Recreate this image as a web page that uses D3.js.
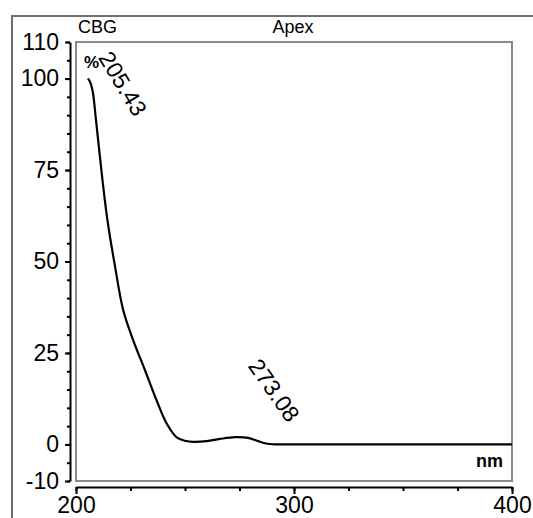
<!DOCTYPE html>
<html>
<head>
<meta charset="utf-8">
<script src="https://cdn.jsdelivr.net/npm/d3@7"></script>
<style>
  body { margin: 0; background: #fff; }
  svg { display: block; font-family: "Liberation Sans", Arial, sans-serif; }
  .axis path, .axis line { stroke: #000; stroke-width: 2; }
</style>
</head>
<body>
<svg id="chart" width="533" height="518"></svg>
<script>
// spectrum (nm, %)
var wavelengths = [205.4, 206.3, 207.6, 209.2, 212.2, 214.5, 217.8, 221.7, 226.3, 231.7, 237, 241.6, 246.2, 250, 254, 260, 266, 273, 279, 283, 286, 290, 300, 350, 400];
var absorbance  = [100, 99.3, 96.7, 88.5, 72, 61, 49, 36.6, 28.4, 20.2, 12, 5.7, 1.9, 1.0, 0.7, 0.9, 1.5, 2.0, 1.8, 1.0, 0.4, 0.05, 0, 0, 0];

// peak labels
var peakNm  = [205.43, 273.08];
var peakPct = [100, 2];
var peakText = ["205.43", "273.08"];

var yMajor = [-10, 0, 25, 50, 75, 100, 110];
var xMajor = [200, 300, 400];

var svg = d3.select("#chart");

// plot box in pixels (window.top is reserved, so prefixed names)
var boxL = 76, boxR = 512, boxT = 42, boxB = 481;

var x = d3.scaleLinear().domain([200, 400]).range([boxL, boxR]);
var y = d3.scaleLinear().domain([-10, 110]).range([boxB, boxT]);

// outer frame (top and left edges)
svg.append("path")
    .attr("d", "M12,518 V16 H533")
    .attr("fill", "none")
    .attr("stroke", "#6e6e6e")
    .attr("stroke-width", 2);

// inner plot box
svg.append("rect")
    .attr("x", boxL).attr("y", boxT)
    .attr("width", boxR - boxL).attr("height", boxB - boxT)
    .attr("fill", "none")
    .attr("stroke", "#8a8a8a")
    .attr("stroke-width", 2);

// Y axis: minor ticks every 5, major with labels
var yMinor = d3.range(-10, 111, 5);
svg.append("g")
    .attr("class", "axis")
    .attr("transform", "translate(70,0)")
    .call(d3.axisLeft(y).tickValues(yMinor).tickSize(3).tickSizeOuter(0).tickFormat(""));

var yAx = svg.append("g")
    .attr("class", "axis")
    .attr("transform", "translate(70,0)")
    .call(d3.axisLeft(y).tickValues(yMajor).tickSize(5).tickSizeOuter(0).tickPadding(6)
        .tickFormat(function(d) { return String(d); }));
yAx.select(".domain").remove();
yAx.selectAll("text").style("font-size", "23px").attr("fill", "#000");

// X axis
var xMinor = d3.range(200, 401, 25);
svg.append("g")
    .attr("class", "axis")
    .attr("transform", "translate(0,487)")
    .call(d3.axisBottom(x).tickValues(xMinor).tickSize(4).tickSizeOuter(0).tickFormat(""));

var xAx = svg.append("g")
    .attr("class", "axis")
    .attr("transform", "translate(0,487)")
    .call(d3.axisBottom(x).tickValues(xMajor).tickSize(7).tickSizeOuter(0).tickPadding(3));
xAx.select(".domain").remove();
xAx.selectAll("text").style("font-size", "23px").attr("fill", "#000");

// headers
svg.append("text")
    .attr("x", 78).attr("y", 33)
    .style("font-size", "18px")
    .text("CBG");
svg.append("text")
    .attr("x", 293).attr("y", 33)
    .attr("text-anchor", "middle")
    .style("font-size", "18px")
    .text("Apex");

// units
svg.append("text")
    .attr("x", 84).attr("y", 68)
    .style("font-size", "17px").style("font-weight", "bold")
    .text("%");
svg.append("text")
    .attr("x", 503).attr("y", 467)
    .attr("text-anchor", "end")
    .style("font-size", "18px").style("font-weight", "bold")
    .text("nm");

// the spectrum
var pts = wavelengths.map(function(d, i) { return [d, absorbance[i]]; });
var line = d3.line()
    .x(function(d) { return x(d[0]); })
    .y(function(d) { return y(d[1]); })
    .curve(d3.curveCatmullRom.alpha(0.5));

svg.append("path")
    .attr("d", line(pts))
    .attr("fill", "none")
    .attr("stroke", "#000")
    .attr("stroke-width", 2.2);

// rotated peak labels, offset from the peak point
var offs = [[10, -21, 59], [12, -71, 55]];
peakNm.forEach(function(p, i) {
    var px = x(p) + offs[i][0], py = y(peakPct[i]) + offs[i][1];
    svg.append("text")
        .attr("transform", "translate(" + px + "," + py + ") rotate(" + offs[i][2] + ")")
        .style("font-size", "23px")
        .text(peakText[i]);
});
</script>
</body>
</html>
